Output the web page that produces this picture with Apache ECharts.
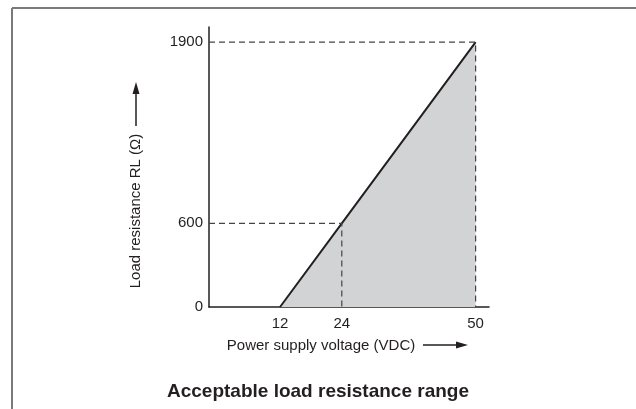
<!DOCTYPE html>
<html>
<head>
<meta charset="utf-8">
<script src="https://cdn.jsdelivr.net/npm/echarts@6/dist/echarts.min.js"></script>
<style>
  html, body { margin: 0; padding: 0; background: #fff; }
  #chart { width: 636px; height: 409px; }
</style>
</head>
<body>
<div id="chart"></div>
<script>
// data
var voltage = [12, 24, 50];          // VDC
var resistance = [0, 600, 1900];     // ohm
var xTicks = [12, 24, 50];
var yTicks = [0, 600, 1900];
var xMin = -1.8, xMax = 52.6;
var yMin = 0, yMax = 2008;

var boundary = voltage.map(function (v, i) { return [v, resistance[i]]; });
// dashed guides at 24 V / 600 and 50 V / 1900
var guide24 = [[xMin, resistance[1]], [voltage[1], resistance[1]], [voltage[1], 0]];
var guide50 = [[xMin, resistance[2]], [voltage[2], resistance[2]], [voltage[2], 0]];

var font = 'Liberation Sans';
var ink = '#231f20';
var dash = { color: '#444', width: 1.2, type: [6, 4] };

var chart = echarts.init(document.getElementById('chart'));
chart.setOption({
  animation: false,
  title: {
    text: 'Acceptable load resistance range',
    left: 'center',
    top: 377,
    textStyle: { fontFamily: font, fontSize: 19, fontWeight: 'bold', color: ink }
  },
  grid: { left: 209, right: 147, top: 27, bottom: 102 },
  xAxis: {
    type: 'value',
    min: xMin,
    max: xMax,
    name: 'Power supply voltage (VDC)',
    nameLocation: 'middle',
    nameGap: 31,
    nameTextStyle: { fontFamily: font, fontSize: 15, color: ink, padding: [0, 56, 0, 0] },
    axisLine: { lineStyle: { color: ink, width: 1.5 } },
    axisTick: { show: false },
    splitLine: { show: false },
    axisLabel: { customValues: xTicks, fontFamily: font, fontSize: 15, color: ink, margin: 9 }
  },
  yAxis: {
    type: 'value',
    min: yMin,
    max: yMax,
    name: 'Load resistance RL (Ω)',
    nameLocation: 'middle',
    nameRotate: 90,
    nameGap: 66,
    nameTextStyle: { fontFamily: font, fontSize: 15, color: ink, padding: [0, 88, 0, 0] },
    axisLine: { onZero: false, lineStyle: { color: ink, width: 1.5 } },
    axisTick: { show: false },
    splitLine: { show: false },
    axisLabel: {
      customValues: yTicks, fontFamily: font, fontSize: 15, color: ink, margin: 6,
      formatter: function (v) { return String(v); }
    }
  },
  series: [
    {
      type: 'line',
      data: boundary,
      symbol: 'none',
      z: 3,
      lineStyle: { color: ink, width: 2 },
      areaStyle: { color: '#d2d3d5', opacity: 1 }
    },
    { type: 'line', data: guide24, symbol: 'none', z: 4, lineStyle: dash },
    { type: 'line', data: guide50, symbol: 'none', z: 4, lineStyle: dash }
  ],
  graphic: [
    // frame (top and left only)
    { type: 'line', shape: { x1: 12, y1: 8, x2: 636, y2: 8 }, style: { stroke: '#7a7a7a', lineWidth: 2 } },
    { type: 'line', shape: { x1: 12, y1: 8, x2: 12, y2: 409 }, style: { stroke: '#7a7a7a', lineWidth: 2 } },
    // y axis name arrow
    { type: 'line', shape: { x1: 136, y1: 126, x2: 136, y2: 92 }, style: { stroke: ink, lineWidth: 1.5 } },
    { type: 'polygon', shape: { points: [[136, 82], [132.5, 94], [139.5, 94]] }, style: { fill: ink } },
    // x axis name arrow
    { type: 'line', shape: { x1: 423, y1: 345, x2: 458, y2: 345 }, style: { stroke: ink, lineWidth: 1.5 } },
    { type: 'polygon', shape: { points: [[468, 345], [456, 341.5], [456, 348.5]] }, style: { fill: ink } }
  ]
});
</script>
</body>
</html>
